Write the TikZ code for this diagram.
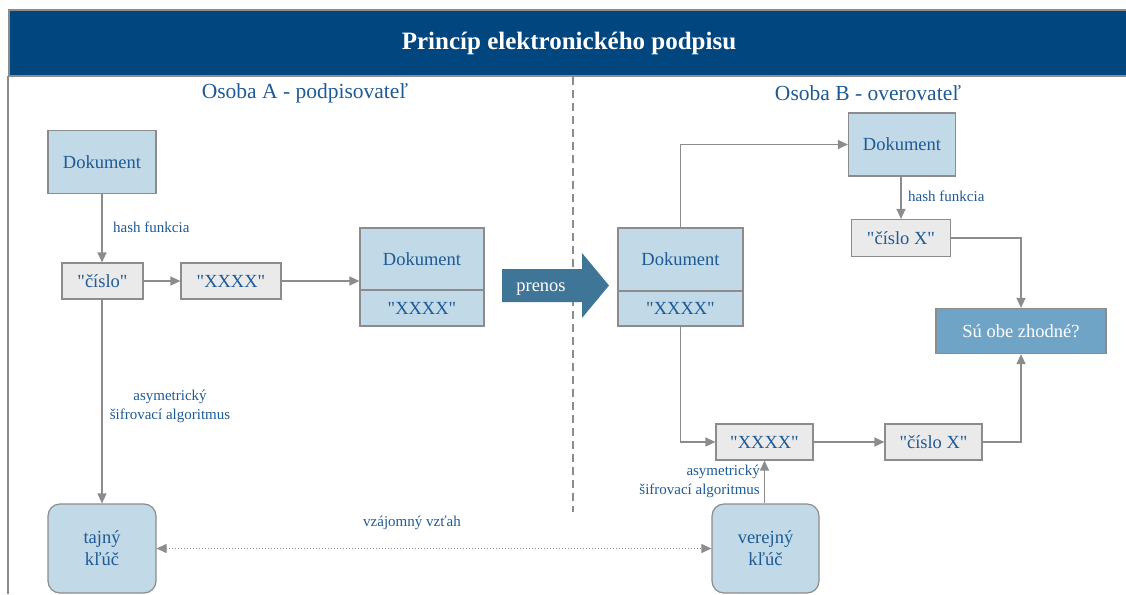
\documentclass[tikz,border=0pt]{standalone}
\usepackage{fontspec}
\setmainfont{Liberation Serif}[Ligatures=TeXOff]
\usetikzlibrary{arrows.meta}

\definecolor{barblue}{HTML}{02467F}
\definecolor{txtblue}{HTML}{1E5A94}
\definecolor{docfill}{HTML}{C2D9E7}
\definecolor{numfill}{HTML}{EAEAEA}
\definecolor{edgegray}{HTML}{8C8C8C}
\definecolor{askfill}{HTML}{6FA4C7}
\definecolor{transfer}{HTML}{3F7697}

\tikzset{
  box/.style={draw=edgegray, line width=1.2pt, text=txtblue, inner sep=0pt,
              font=\fontsize{18.5}{22}\selectfont, anchor=center},
  docbox/.style={box, fill=docfill},
  numbox/.style={box, fill=numfill},
  keybox/.style={docbox, rounded corners=12pt, align=center},
  askbox/.style={box, fill=askfill, text=white},
  lbl/.style={text=txtblue, inner sep=0pt, font=\fontsize{15}{19}\selectfont},
  head/.style={text=txtblue, inner sep=0pt, font=\fontsize{21.5}{24}\selectfont},
  link/.style={draw=edgegray, line width=1.3pt},
  conn/.style={link, -{Triangle[length=10pt,width=9pt]}},
}

\begin{document}
\begin{tikzpicture}[x=1pt,y=-1pt]
\useasboundingbox (0,0) rectangle (1126,594);

% title bar and frame
\node[draw=edgegray, line width=1.5pt, fill=barblue, minimum width=1120, minimum height=66,
      inner sep=0pt, text=white, font=\bfseries\fontsize{25}{30}\selectfont]
      (title) at (569,43) {Princíp elektronického podpisu};
\draw[edgegray, line width=1.2pt] (8,76) -- (8,594);
\draw[edgegray, line width=1.2pt, dash pattern=on 8pt off 5pt] (573,77) -- (573,512);

\node[head] (hdrA) at (305,93) {Osoba A - podpisovateľ};
\node[head] (hdrB) at (868,93) {Osoba B - overovateľ};

% signer side
\node[docbox, minimum width=108, minimum height=63] (docA) at (102,162) {Dokument};
\node[numbox, minimum width=81, minimum height=36] (numA) at (102.5,281) {"číslo"};
\node[numbox, minimum width=100, minimum height=36] (hashA) at (231,281) {"XXXX"};
\node[docbox, minimum width=124, minimum height=62] (sigAdoc) at (422,259) {Dokument};
\node[docbox, minimum width=124, minimum height=36] (sigAx) at (422,308) {"XXXX"};
\node[keybox, minimum width=108, minimum height=89] (secret) at (102,548.5) {tajný\\kľúč};

\draw[conn] (docA.south) -- (docA.south |- numA.north);
\node[lbl, anchor=west] (hashlblA) at (113,227) {hash funkcia};
\draw[conn] (numA.east) -- (hashA.west);
\draw[conn] (hashA.east) -- (sigAx.west |- hashA.east);
\draw[conn] (numA.south -| docA.south) -- (secret.north);
\node[lbl, align=center] (asymA) at (170,406) {asymetrický\\šifrovací algoritmus};

% transfer arrow
\fill[transfer] (502,269) -- (582,269) -- (582,253) -- (609,285.5) -- (582,318)
                -- (582,302) -- (502,302) -- cycle;
\node[text=white, inner sep=0pt, font=\fontsize{18.5}{22}\selectfont] (prenos) at (541,289.5) {prenos};

% verifier side
\node[docbox, minimum width=125, minimum height=63] (sigBdoc) at (680.5,259.5) {Dokument};
\node[docbox, minimum width=125, minimum height=35] (sigBx) at (680.5,308.5) {"XXXX"};
\node[docbox, minimum width=107, minimum height=63] (docB) at (902,144.5) {Dokument};
\node[numbox, minimum width=99, minimum height=37] (numB) at (901,238) {"číslo X"};
\node[askbox, minimum width=170, minimum height=45] (same) at (1021,331) {Sú obe zhodné?};
\node[numbox, minimum width=97, minimum height=36] (hashB) at (764.5,442) {"XXXX"};
\node[numbox, minimum width=97, minimum height=36] (numB2) at (933.5,442) {"číslo X"};
\node[keybox, minimum width=107, minimum height=89] (public) at (765.5,548.5) {verejný\\kľúč};

\draw[conn] (sigBdoc.north) |- (docB.west);
\draw[conn] (docB.south -| numB.north) -- (numB.north);
\node[lbl, anchor=west] (hashlblB) at (908,196) {hash funkcia};
\draw[conn] (numB.east) -| (same.north);
\draw[conn] (sigBx.south) |- (hashB.west);
\draw[conn] (hashB.east) -- (numB2.west);
\draw[conn] (numB2.east) -| (same.south);
\draw[conn] (public.north -| hashB.south) -- (hashB.south);
\node[lbl, align=right, anchor=east] (asymB) at (760,481) {asymetrický\\šifrovací algoritmus};

% key relationship
\draw[link, line width=1pt, dotted, {Triangle[length=10pt,width=9pt]}-{Triangle[length=10pt,width=9pt]}]
     (secret.east) -- (public.west);
\node[lbl] (relation) at (412,523) {vzájomný vzťah};
\end{tikzpicture}
\end{document}
